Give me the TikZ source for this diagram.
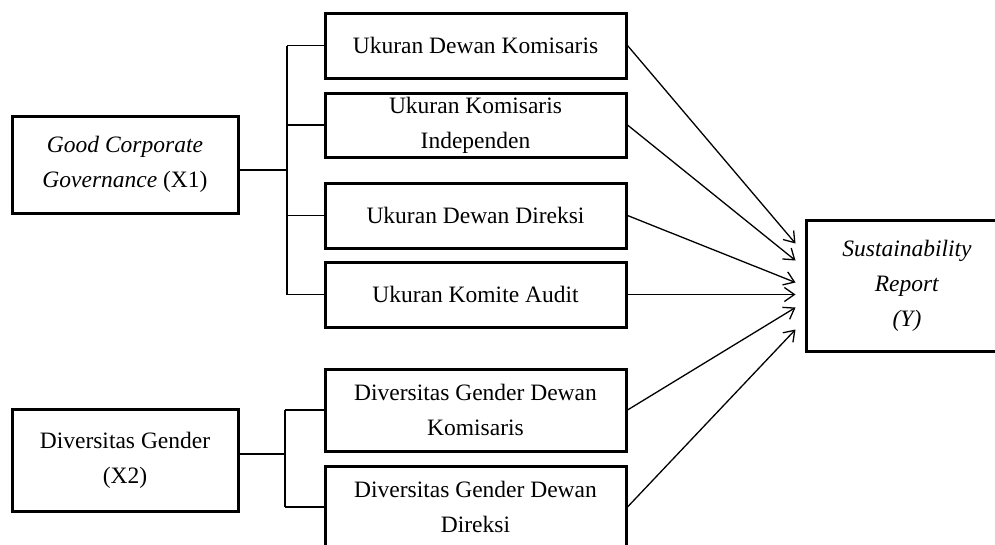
\documentclass[tikz,border=0pt]{standalone}
\usepackage{fontspec}
\setmainfont{Liberation Serif}
\usetikzlibrary{arrows.meta, positioning, calc}

\begin{document}
\begin{tikzpicture}[
    x=1pt, y=-1pt,
    box/.style={rectangle, draw=black, line width=3pt, minimum width=301pt, minimum height=65pt, inner sep=2pt, font=\fontsize{23.5}{35}\selectfont, align=center},
    link/.style={line width=1.3pt},
    arrow/.style={-{Straight Barb[length=10pt, width=14pt]}, line width=1.3pt}
]
\useasboundingbox (0,0) rectangle (995,544);

% variables
\node[box, minimum width=226pt, minimum height=97pt] (gcg) at (125,164.5) {\textit{Good Corporate}\\\textit{Governance} (X1)};
\node[box, minimum width=226pt, minimum height=102pt] (gender) at (125,460) {Diversitas Gender\\(X2)};

\node[box] (udk) at (475.5,45.5) {Ukuran Dewan Komisaris};
\node[box, minimum height=64pt] (uki) at (475.5,125) {Ukuran Komisaris\\Independen};
\node[box] (udd) at (475.5,215.5) {Ukuran Dewan Direksi};
\node[box] (uka) at (475.5,294.5) {Ukuran Komite Audit};
\node[box, minimum height=82pt] (dgk) at (475.5,410) {Diversitas Gender Dewan\\Komisaris};
\node[box, minimum height=82pt] (dgd) at (475.5,507) {Diversitas Gender Dewan\\Direksi};

\node[box, minimum width=202pt, minimum height=131pt] (sr) at (907,285.5) {\textit{Sustainability}\\\textit{Report}\\\textit{(Y)}};

% brackets
\coordinate (bus1) at (287,170);
\coordinate (bus2) at (285,454);
\draw[link] (gcg.east |- bus1) -- (bus1);
\draw[link] (bus1 |- udk) -- (bus1 |- uka);
\foreach \n in {udk, uki, udd, uka}
    \draw[link] (bus1 |- \n) -- (\n.west);
\draw[link] (gender.east |- bus2) -- (bus2);
\draw[link] (bus2 |- dgk) -- (bus2 |- dgd);
\foreach \n in {dgk, dgd}
    \draw[link] (bus2 |- \n) -- (\n.west);

% arrows to Y
\foreach \n/\dy in {udk/-42, uki/-25, udd/-3, uka/9, dgk/22, dgd/44}
    \draw[arrow] (\n.east) -- ([shift={(-9,\dy)}]sr.west);

\end{tikzpicture}
\end{document}
